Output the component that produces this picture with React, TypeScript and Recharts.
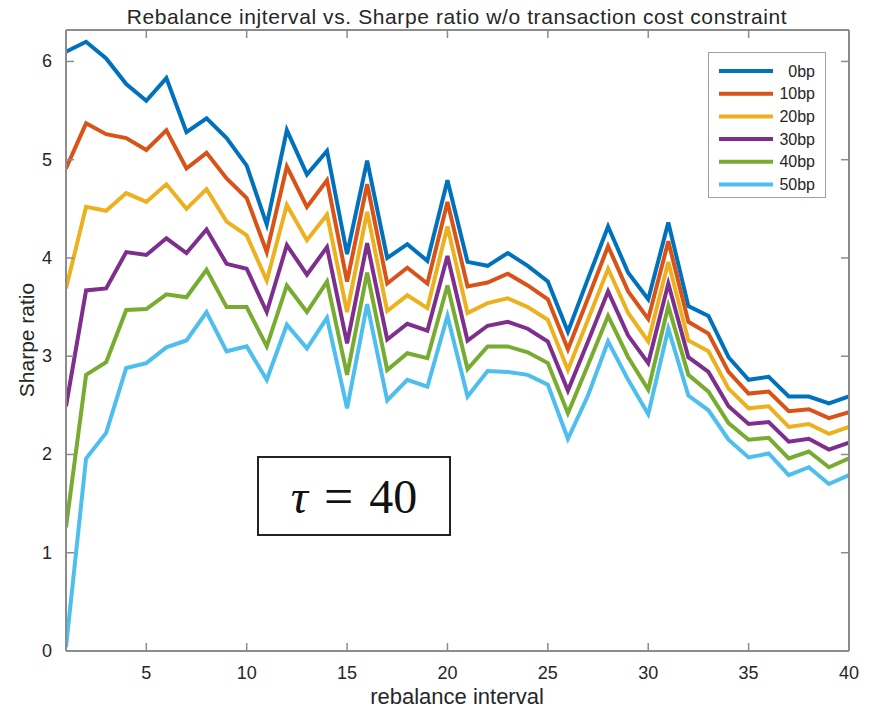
import React from 'react'
import { LineChart, Line, XAxis, YAxis, Legend } from 'recharts'

// rebalance interval (x) and Sharpe ratio per transaction cost level
const intervals = [
  1, 2, 3, 4, 5, 6, 7, 8, 9, 10, 11, 12, 13, 14, 15, 16, 17, 18, 19, 20,
  21, 22, 23, 24, 25, 26, 27, 28, 29, 30, 31, 32, 33, 34, 35, 36, 37, 38, 39, 40,
]
const bp0 = [
  6.10, 6.20, 6.03, 5.77, 5.60, 5.83, 5.28, 5.42, 5.22, 4.94, 4.34, 5.30, 4.85, 5.09, 4.04, 4.99, 4.00, 4.14, 3.97, 4.79,
  3.96, 3.92, 4.05, 3.92, 3.76, 3.25, 3.79, 4.32, 3.85, 3.58, 4.36, 3.51, 3.41, 2.99, 2.76, 2.79, 2.59, 2.59, 2.52, 2.59,
]
const bp10 = [
  4.91, 5.37, 5.26, 5.22, 5.10, 5.30, 4.91, 5.07, 4.81, 4.61, 4.06, 4.93, 4.52, 4.79, 3.76, 4.75, 3.74, 3.90, 3.74, 4.57,
  3.71, 3.75, 3.84, 3.72, 3.58, 3.07, 3.59, 4.12, 3.66, 3.38, 4.17, 3.35, 3.23, 2.84, 2.62, 2.64, 2.44, 2.46, 2.37, 2.43,
]
const bp20 = [
  3.69, 4.52, 4.48, 4.66, 4.57, 4.75, 4.50, 4.70, 4.37, 4.23, 3.77, 4.54, 4.18, 4.44, 3.45, 4.47, 3.46, 3.62, 3.49, 4.32,
  3.44, 3.54, 3.59, 3.50, 3.37, 2.86, 3.37, 3.89, 3.44, 3.15, 3.96, 3.16, 3.05, 2.67, 2.47, 2.49, 2.28, 2.31, 2.21, 2.28,
]
const bp30 = [
  2.49, 3.67, 3.69, 4.06, 4.03, 4.20, 4.05, 4.29, 3.94, 3.89, 3.45, 4.13, 3.83, 4.11, 3.13, 4.15, 3.17, 3.33, 3.26, 4.02,
  3.16, 3.31, 3.35, 3.28, 3.15, 2.65, 3.15, 3.66, 3.21, 2.93, 3.74, 2.99, 2.84, 2.49, 2.31, 2.33, 2.13, 2.16, 2.05, 2.12,
]
const bp40 = [
  1.26, 2.81, 2.94, 3.47, 3.48, 3.63, 3.60, 3.88, 3.50, 3.50, 3.10, 3.72, 3.45, 3.76, 2.81, 3.85, 2.86, 3.03, 2.98, 3.72,
  2.87, 3.10, 3.10, 3.04, 2.93, 2.42, 2.91, 3.41, 2.99, 2.66, 3.51, 2.81, 2.64, 2.32, 2.15, 2.17, 1.96, 2.03, 1.87, 1.96,
]
const bp50 = [
  0.04, 1.96, 2.22, 2.88, 2.93, 3.09, 3.16, 3.45, 3.05, 3.10, 2.76, 3.32, 3.08, 3.39, 2.47, 3.53, 2.55, 2.76, 2.69, 3.41,
  2.59, 2.85, 2.84, 2.81, 2.71, 2.16, 2.60, 3.15, 2.76, 2.41, 3.28, 2.60, 2.45, 2.15, 1.97, 2.01, 1.79, 1.87, 1.70, 1.79,
]

const seriesNames = ['0bp', '10bp', '20bp', '30bp', '40bp', '50bp']
const seriesValues = [bp0, bp10, bp20, bp30, bp40, bp50]
const seriesColors = ['#0072BD', '#D95319', '#EDB120', '#7E2F8E', '#77AC30', '#4DBEEE']

const xTicks = [5, 10, 15, 20, 25, 30, 35, 40]
const yTicks = [0, 1, 2, 3, 4, 5, 6]

const data = intervals.map((x, i) => {
  const row: Record<string, number> = { x }
  seriesNames.forEach((n, k) => { row[n] = seriesValues[k][i] })
  return row
})

const AXIS = '#8c8c8c'
const TXT = '#262626'
const FONT = '"Liberation Sans", Arial, sans-serif'

const BottomTick = ({ x, y, payload }: any) => (
  <g>
    <line x1={x} y1={y} x2={x} y2={y - 8} stroke={AXIS} strokeWidth={1.5} />
    <text x={x} y={y + 22} textAnchor="middle" dominantBaseline="central"
      fontSize={18} fill={TXT} fontFamily={FONT}>{payload.value}</text>
  </g>
)

const LeftTick = ({ x, y, payload }: any) => (
  <g>
    <line x1={x} y1={y} x2={x + 8} y2={y} stroke={AXIS} strokeWidth={1.5} />
    <text x={x - 14} y={y} textAnchor="end" dominantBaseline="central"
      fontSize={18} fill={TXT} fontFamily={FONT}>{payload.value}</text>
  </g>
)

const TopTick = ({ x, y }: any) => (
  <line x1={x} y1={y} x2={x} y2={y + 8} stroke={AXIS} strokeWidth={1.5} />
)

const RightTick = ({ x, y }: any) => (
  <line x1={x} y1={y} x2={x - 8} y2={y} stroke={AXIS} strokeWidth={1.5} />
)

const LegendBox = ({ payload }: any) => (
  <div style={{ width: 118, height: 146, border: '1.5px solid #a0a0a0', background: '#fff', boxSizing: 'border-box' }}>
    <svg width={115} height={143} style={{ display: 'block' }}>
      {(payload || []).map((p: any, i: number) => (
        <g key={p.value}>
          <line x1={10} x2={64} y1={18 + i * 22.7} y2={18 + i * 22.7} stroke={p.color} strokeWidth={4} />
          <text x={106} y={18 + i * 22.7} textAnchor="end" dominantBaseline="central"
            fontSize={16} fill={TXT} fontFamily={FONT}>{p.value}</text>
        </g>
      ))}
    </svg>
  </div>
)

export default function App() {
  return (
    <div style={{ position: 'absolute', left: 0, top: 0, width: 869, height: 710, background: '#fff', fontFamily: FONT }}>
      <LineChart width={869} height={710} data={data}
        margin={{ top: 20, right: 10, bottom: 19, left: 26 }}>
        <XAxis dataKey="x" type="number" domain={[1, 40]} ticks={xTicks} interval={0}
          height={40} tickSize={0} tickMargin={0} tick={<BottomTick />}
          axisLine={{ stroke: AXIS, strokeWidth: 2 }} allowDataOverflow />
        <XAxis xAxisId="top" orientation="top" dataKey="x" type="number" domain={[1, 40]} ticks={xTicks}
          interval={0} height={10} tickSize={0} tickMargin={0} tick={<TopTick />}
          axisLine={{ stroke: AXIS, strokeWidth: 2 }} allowDataOverflow />
        <YAxis type="number" domain={[0, 6.32]} ticks={yTicks} interval={0}
          width={40} tickSize={0} tickMargin={0} tick={<LeftTick />}
          axisLine={{ stroke: AXIS, strokeWidth: 2 }} allowDataOverflow />
        <YAxis yAxisId="right" orientation="right" type="number" domain={[0, 6.32]} ticks={yTicks}
          interval={0} width={10} tickSize={0} tickMargin={0} tick={<RightTick />}
          axisLine={{ stroke: AXIS, strokeWidth: 2 }} allowDataOverflow />
        <Legend layout="vertical" align="center" verticalAlign="middle" content={<LegendBox />}
          wrapperStyle={{ left: 708, top: 52, width: 118, height: 146 }} />
        {seriesNames.map((n, k) => (
          <Line key={n} type="linear" dataKey={n} name={n} stroke={seriesColors[k]}
            strokeWidth={4} dot={false} activeDot={false} isAnimationActive={false} />
        ))}
      </LineChart>

      {/* title and axis labels */}
      <div style={{ position: 'absolute', left: 0, width: 914, top: 5, textAlign: 'center', fontSize: 21, letterSpacing: 0.6, color: TXT, whiteSpace: 'nowrap' }}>
        Rebalance injterval vs. Sharpe ratio w/o transaction cost constraint
      </div>
      <div style={{ position: 'absolute', left: 0, width: 914, top: 684, textAlign: 'center', fontSize: 22, color: TXT, whiteSpace: 'nowrap' }}>
        rebalance interval
      </div>
      <div style={{ position: 'absolute', left: 27, top: 340, transform: 'translate(-50%, -50%) rotate(-90deg)', fontSize: 21, color: TXT, whiteSpace: 'nowrap' }}>
        Sharpe ratio
      </div>
      {/* τ annotation */}
      <div style={{
        position: 'absolute', left: 257, top: 456, width: 194, height: 80, boxSizing: 'border-box',
        border: '2px solid #222', background: '#fff', display: 'flex', alignItems: 'center', justifyContent: 'center',
        fontFamily: '"Liberation Serif", "DejaVu Serif", serif', fontSize: 48, color: '#111', whiteSpace: 'nowrap',
      }}>
        <span style={{ fontStyle: 'italic' }}>τ</span>
        <span style={{ margin: '0 16px', fontSize: 52 }}>=</span>
        <span>40</span>
      </div>
    </div>
  )
}
